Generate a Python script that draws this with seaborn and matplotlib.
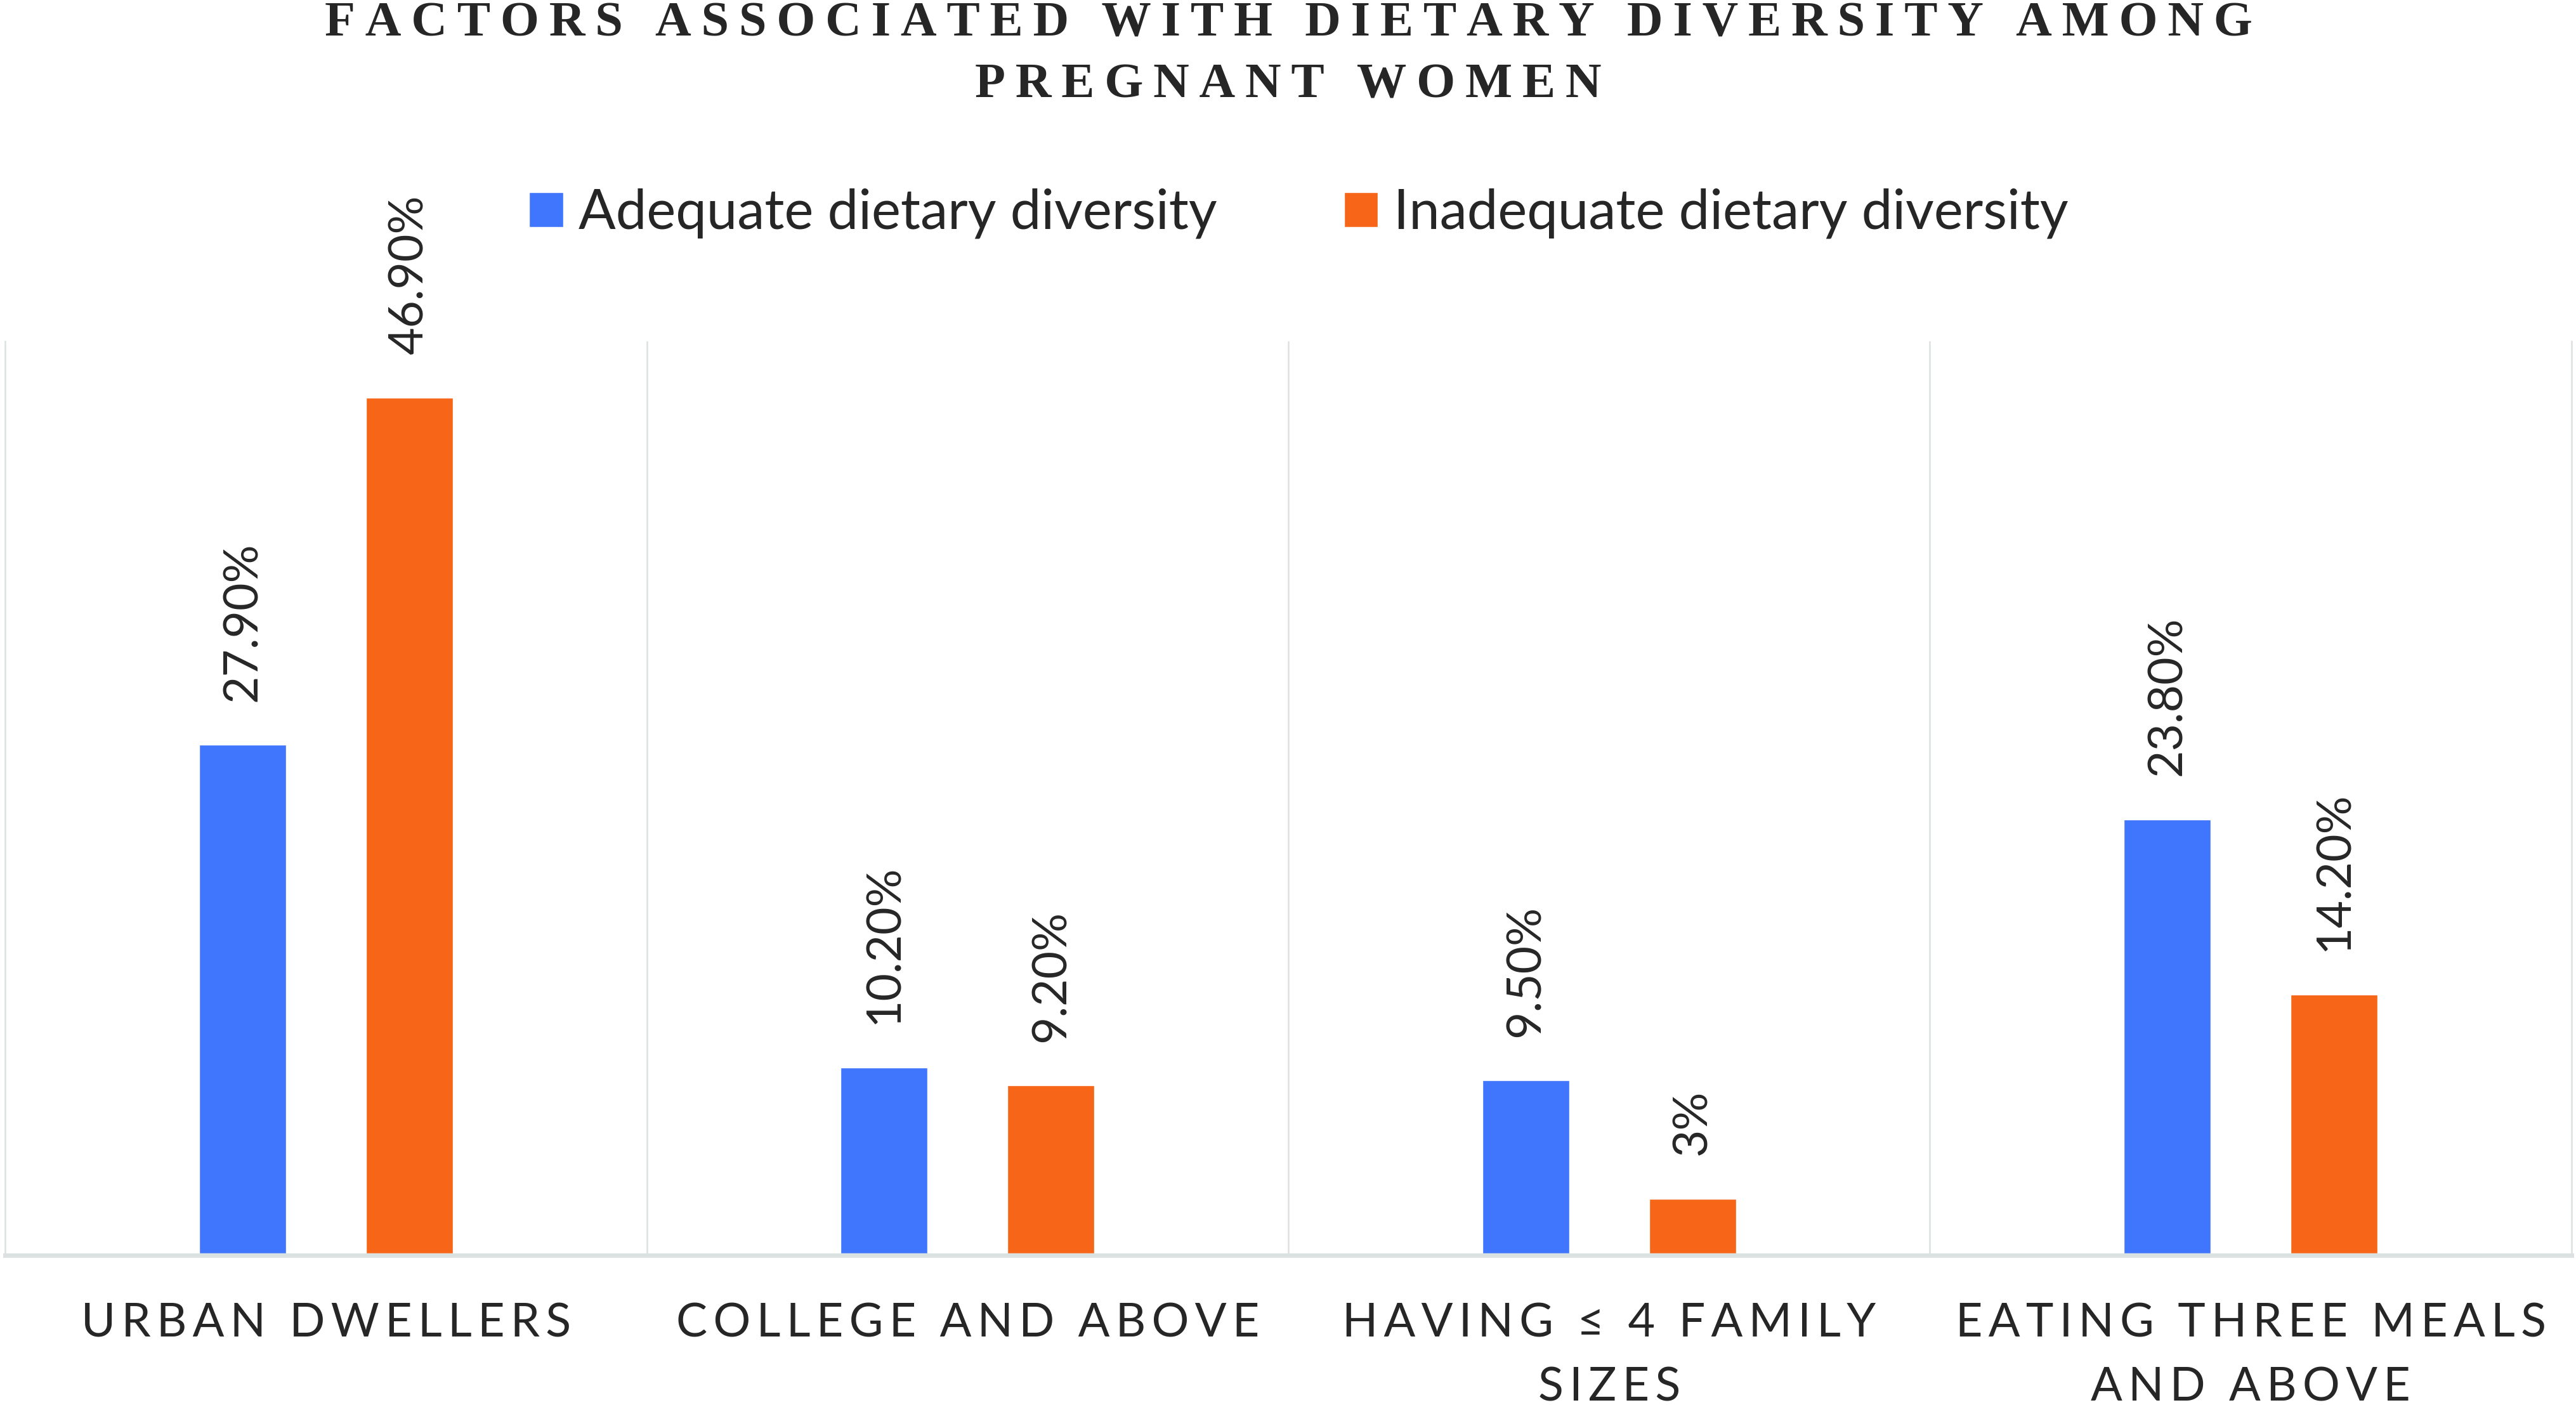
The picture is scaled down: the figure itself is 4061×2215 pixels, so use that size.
import pandas as pd
import seaborn as sns
import matplotlib.pyplot as plt
import numpy as np

# chart data
factors = ["Urban dwellers", "College and above", "Having <= 4 family sizes", "Eating three meals and above"]
tick_labels = ["URBAN DWELLERS", "COLLEGE AND ABOVE", "HAVING ≤ 4 FAMILY\nSIZES", "EATING THREE MEALS\nAND ABOVE"]
groups = ["Adequate dietary diversity", "Inadequate dietary diversity"]
adequate = [27.9, 10.2, 9.5, 23.8]
inadequate = [46.9, 9.2, 3.0, 14.2]
adequate_labels = ["27.90%", "10.20%", "9.50%", "23.80%"]
inadequate_labels = ["46.90%", "9.20%", "3%", "14.20%"]

colors = ["#4075FE", "#F76518"]
grid_color = "#DCE2E1"


def track(s, sep="\u2009"):
    # fake letter spacing
    return "\n".join(sep.join(line) for line in s.split("\n"))


df = pd.DataFrame({
    "factor": factors * 2,
    "group": [groups[0]] * len(factors) + [groups[1]] * len(factors),
    "value": adequate + inadequate,
})

sns.set_style("white")
plt.rcParams["font.family"] = ["Lato", "DejaVu Sans"]

fig = plt.figure(figsize=(40.62, 22.15), dpi=100)
ax = fig.add_axes([0.002, 0.108, 0.996, 0.649])

sns.barplot(data=df, x="factor", y="value", hue="group", palette=colors,
            saturation=1, width=0.52, gap=0.48, errorbar=None, ax=ax)

ax.set_ylim(0, 50)
ax.set_xlim(-0.5, len(factors) - 0.5)
ax.set_yticks([])
ax.set_xlabel("")
ax.set_ylabel("")

# separators between groups
ax.set_xticks(np.arange(len(factors) - 1) + 0.5, minor=True)
ax.grid(which="minor", axis="x", color=grid_color, lw=1.8)
ax.set_axisbelow(True)
ax.tick_params(which="both", length=0)

# category labels (drawn as annotations so the line spacing sticks)
ax.set_xticks(range(len(factors)))
ax.set_xticklabels([])
for i, lab in enumerate(tick_labels):
    ax.annotate(track(lab), xy=(i, 0), xycoords=ax.get_xaxis_transform(),
                xytext=(0, -56), textcoords="offset points", ha="center", va="top",
                fontsize=53, linespacing=1.62, annotation_clip=False)

for side in ["left", "right"]:
    ax.spines[side].set_color(grid_color)
    ax.spines[side].set_linewidth(1.8)
ax.spines["top"].set_visible(False)
ax.spines["bottom"].set_color(grid_color)
ax.spines["bottom"].set_linewidth(5)
ax.spines["bottom"].set_position(("outward", 2.5))

for container, labs in zip(ax.containers, [adequate_labels, inadequate_labels]):
    ax.bar_label(container, labels=labs, rotation=90, padding=49, fontsize=54)

handles, labels = ax.get_legend_handles_labels()
ax.legend(handles, labels, loc="center", bbox_to_anchor=(0.504, 0.848),
          bbox_transform=fig.transFigure, ncol=2, frameon=False, fontsize=62.5,
          handlelength=0.62, handleheight=0.59, handletextpad=0.28, columnspacing=2.3)

serif = ["Liberation Serif", "DejaVu Serif"]
fig.text(0.5, 0.9743, track("FACTORS ASSOCIATED WITH DIETARY DIVERSITY AMONG"),
         ha="center", va="baseline", family=serif, weight="bold", fontsize=56.5)
fig.text(0.5, 0.9309, track("PREGNANT WOMEN"),
         ha="center", va="baseline", family=serif, weight="bold", fontsize=56.5)

fig.savefig("out.png", dpi=100)
